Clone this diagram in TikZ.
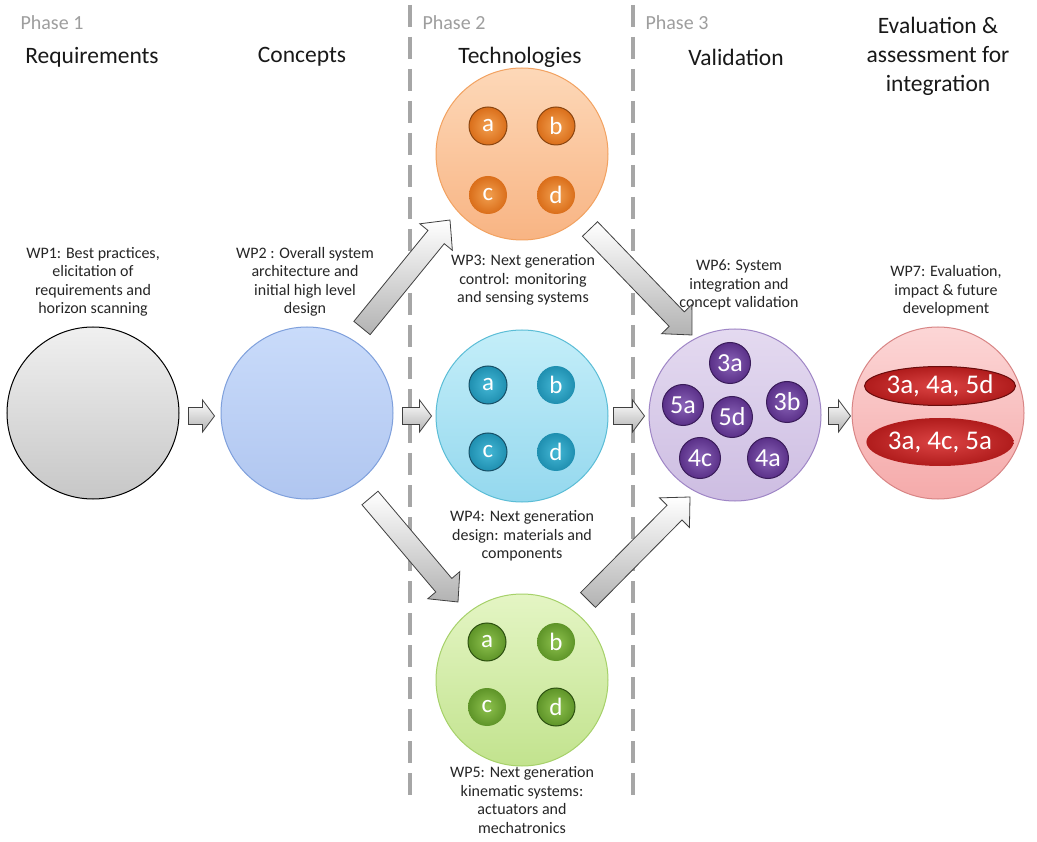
\documentclass[tikz,border=0pt]{standalone}
\usepackage{fontspec}
\setmainfont{Carlito}
\usetikzlibrary{calc,shapes.geometric}
\definecolor{bluetop}{HTML}{C9DBFA}
\definecolor{bluebot}{HTML}{B0C6F0}
\definecolor{bluedraw}{HTML}{7FA0DC}
\definecolor{ortop}{HTML}{FDD8B8}
\definecolor{orbot}{HTML}{F8B483}
\definecolor{ordraw}{HTML}{F2A261}
\definecolor{cytop}{HTML}{C4EEF9}
\definecolor{cybot}{HTML}{94D8EE}
\definecolor{cydraw}{HTML}{5BBDD6}
\definecolor{grtop}{HTML}{E4F5C4}
\definecolor{grbot}{HTML}{C2E38E}
\definecolor{grdraw}{HTML}{A6D16A}
\definecolor{putop}{HTML}{E4DAF0}
\definecolor{pubot}{HTML}{CDBDE2}
\definecolor{pudraw}{HTML}{9F86C6}
\definecolor{retop}{HTML}{FCD6D6}
\definecolor{rebot}{HTML}{F5AAAA}
\definecolor{redraw}{HTML}{D88585}
\definecolor{orin}{HTML}{F2A050}
\definecolor{orout}{HTML}{DA6E1A}
\definecolor{ordark}{HTML}{8A4510}
\definecolor{tein}{HTML}{45B8D6}
\definecolor{teout}{HTML}{1F8FB0}
\definecolor{tedark}{HTML}{174F66}
\definecolor{gin}{HTML}{8EC24E}
\definecolor{gout}{HTML}{5E9428}
\definecolor{gdark}{HTML}{2C5010}
\definecolor{pin}{HTML}{8A64B8}
\definecolor{pout}{HTML}{5A3088}
\definecolor{pdark}{HTML}{3A1C5A}
\definecolor{rin}{HTML}{DC4444}
\definecolor{rout}{HTML}{B01C1C}
\definecolor{rdark}{HTML}{6A0C0C}
\newcommand\barrow[5]{%
  \path let \p1=($(#2)-(#1)$) in \pgfextra{\pgfmathsetmacro\myang{atan2(\y1,\x1)}\pgfmathsetmacro\mylen{veclen(\x1,\y1)}\global\let\gmyang\myang\global\let\gmylen\mylen};
  \begin{scope}[shift={(#1)},rotate=\gmyang]
    \draw[blockarrow] (0,-#3) -- ({\gmylen-#5},-#3) -- ({\gmylen-#5},-#4) -- (\gmylen,0) -- ({\gmylen-#5},#4) -- ({\gmylen-#5},#3) -- (0,#3) -- cycle;
  \end{scope}}
\begin{document}
\begin{tikzpicture}[x=1pt,y=-1pt,
  bigc/.style={circle, minimum size=172pt, inner sep=0pt, line width=1pt},
  smallc/.style={circle, minimum size=38pt, inner sep=0pt, text=white, font=\fontsize{25}{25}\selectfont},
  purc/.style={circle, minimum size=41pt, inner sep=0pt, text=white, font=\fontsize{26}{26}\selectfont, inner color=pin, outer color=pout, draw=pdark, line width=1pt},
  redell/.style={ellipse, minimum width=140pt, inner sep=0pt, text=white, font=\fontsize{27}{27}\selectfont, inner color=rin, outer color=rout},
  wplabel/.style={align=center, font=\fontsize{16}{18.5}\selectfont, text=black!85},
  headlabel/.style={align=center, font=\fontsize{23.5}{29}\selectfont, text=black!90},
  phaselabel/.style={anchor=west, font=\fontsize{20}{20}\selectfont, text=black!38},
  blockarrow/.style={draw=black!75, line width=0.8pt, top color=white, bottom color=black!30},
  phaseline/.style={draw=black!35, line width=4pt, dash pattern=on 22pt off 10pt}]
\useasboundingbox (0,0) rectangle (1037,842);
\fill[white] (0,0) rectangle (1037,842);

% phase separators
\coordinate (d1t) at (410,5);
\coordinate (d1b) at (410,802);
\coordinate (d2t) at (633,5);
\coordinate (d2b) at (633,802);
\draw[phaseline] (d1t) -- (d1b);
\draw[phaseline] (d2t) -- (d2b);

% phase and column titles
\node[phaselabel] (p1) at (17,23) {Phase 1};
\node[phaselabel] (p2) at (419,23) {Phase 2};
\node[phaselabel] (p3) at (642,23) {Phase 3};
\node[headlabel] (h1) at (92,57) {Requirements};
\node[headlabel] (h2) at (302,57) {Concepts};
\node[headlabel] (h3) at (520,57) {Technologies};
\node[headlabel] (h4) at (736,57) {Validation};
\node[headlabel] (h5) at (938,56) {Evaluation \&\\assessment for\\integration};

% big circles
\node[bigc, draw=black, top color=black!6, bottom color=black!22] (wp1) at (93,413) {};
\node[bigc, draw=bluedraw, top color=bluetop, bottom color=bluebot] (wp2) at (307,413) {};
\node[bigc, draw=ordraw, top color=ortop, bottom color=orbot] (wp3) at (522,154) {};
\node[bigc, draw=cydraw, top color=cytop, bottom color=cybot] (wp4) at (522,416) {};
\node[bigc, draw=grdraw, top color=grtop, bottom color=grbot] (wp5) at (522,680) {};
\node[bigc, draw=pudraw, top color=putop, bottom color=pubot] (wp6) at (735,415) {};
\node[bigc, draw=redraw, top color=retop, bottom color=rebot] (wp7) at (938,413) {};

% WP3 sub items
\node[smallc, inner color=orin, outer color=orout, draw=ordark, line width=1pt] (w3a) at (488,126) {a};
\node[smallc, inner color=orin, outer color=orout, draw=ordark, line width=1pt] (w3b) at (556,126) {b};
\node[smallc, inner color=orin, outer color=orout] (w3c) at (488,195) {c};
\node[smallc, inner color=orin, outer color=orout] (w3d) at (556,195) {d};
% WP4 sub items
\node[smallc, inner color=tein, outer color=teout, draw=tedark, line width=1pt] (w4a) at (488,385) {a};
\node[smallc, inner color=tein, outer color=teout] (w4b) at (556,385) {b};
\node[smallc, inner color=tein, outer color=teout, draw=tedark, line width=1pt] (w4c) at (488,452) {c};
\node[smallc, inner color=tein, outer color=teout] (w4d) at (556,452) {d};
% WP5 sub items
\node[smallc, inner color=gin, outer color=gout, draw=gdark, line width=1pt] (w5a) at (487,642) {a};
\node[smallc, inner color=gin, outer color=gout] (w5b) at (556,642) {b};
\node[smallc, inner color=gin, outer color=gout] (w5c) at (487,707) {c};
\node[smallc, inner color=gin, outer color=gout, draw=gdark, line width=1pt] (w5d) at (556,707) {d};
% WP6 sub items
\node[purc] (w6a) at (730,363) {3a};
\node[purc] (w6b) at (683,405) {5a};
\node[purc] (w6c) at (787,402) {3b};
\node[purc] (w6e) at (700,458) {4c};
\node[purc] (w6f) at (768,458) {4a};
\node[purc] (w6d) at (732,417) {5d};
% WP7 sub items
\node[redell, minimum height=39pt, draw=rdark, line width=1pt] (w7a) at (940,386) {3a, 4a, 5d};
\node[redell, minimum height=48pt] (w7b) at (940,442) {3a, 4c, 5a};

% labels
\node[wplabel] (l1) at (93,282) {WP1: Best practices,\\elicitation of\\requirements and\\horizon scanning};
\node[wplabel] (l2) at (305,282) {WP2 : Overall system\\architecture and\\initial high level\\design};
\node[wplabel] (l3) at (523,280) {WP3: Next generation\\control: monitoring\\and sensing systems};
\node[wplabel] (l4) at (522,536) {WP4: Next generation\\design: materials and\\components};
\node[wplabel] (l5) at (522,800) {WP5: Next generation\\kinematic systems:\\actuators and\\mechatronics};
\node[wplabel] (l6) at (739,285) {WP6: System\\integration and\\concept validation};
\node[wplabel] (l7) at (946,291) {WP7: Evaluation,\\impact \& future\\development};

% block arrows
\coordinate (a12s) at ($(wp1.east)+(9,3)$);
\coordinate (a12e) at ($(wp2.west)+(-6,3)$);
\coordinate (a24s) at ($(wp2.east)+(9,3)$);
\coordinate (a24e) at ($(wp4.west)+(-4,0)$);
\coordinate (a46s) at ($(wp4.east)+(5,0)$);
\coordinate (a46e) at ($(wp6.west)+(-4,1)$);
\coordinate (a67s) at ($(wp6.east)+(7,1)$);
\coordinate (a67e) at ($(wp7.west)+(-1,3)$);
\barrow{a12s}{a12e}{8.5}{16}{12}
\barrow{a24s}{a24e}{8.5}{16}{12}
\barrow{a46s}{a46e}{8.5}{16}{12}
\barrow{a67s}{a67e}{8.5}{16}{12}
\coordinate (a23s) at ($(wp2.center)+(55,-85)$);
\coordinate (a23e) at ($(wp3.center)+(-72,66)$);
\coordinate (a25s) at ($(wp2.center)+(63,85)$);
\coordinate (a25e) at ($(wp5.center)+(-64,-78)$);
\coordinate (a36s) at ($(wp3.center)+(68,75)$);
\coordinate (a36e) at ($(wp6.center)+(-43,-80)$);
\coordinate (a56s) at ($(wp5.center)+(66,-80)$);
\coordinate (a56e) at ($(wp6.center)+(-45,82)$);
\barrow{a23s}{a23e}{10.5}{21}{22}
\barrow{a25s}{a25e}{10.5}{21}{22}
\barrow{a36s}{a36e}{10.5}{21}{22}
\barrow{a56s}{a56e}{10.5}{21}{22}
\end{tikzpicture}
\end{document}
